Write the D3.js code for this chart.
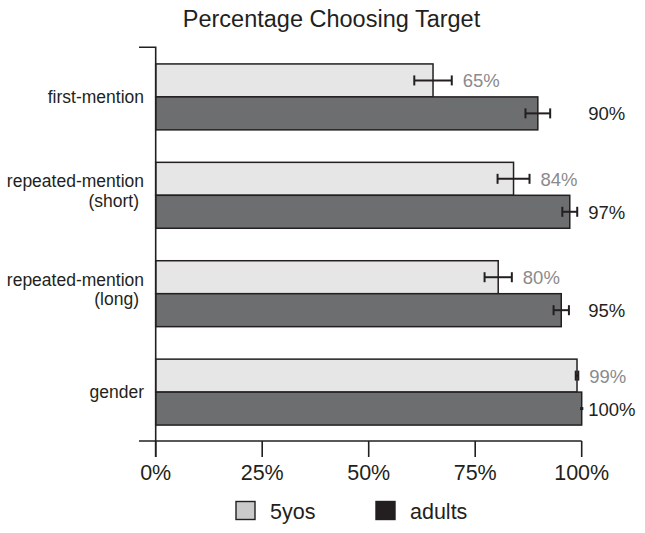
<!DOCTYPE html>
<html>
<head>
<meta charset="utf-8">
<script src="https://cdn.jsdelivr.net/npm/d3@7"></script>
<style>
  html, body { margin: 0; padding: 0; background: #fff; }
  svg { display: block; font-family: "Liberation Sans", Arial, Helvetica, sans-serif; }
</style>
</head>
<body>
<svg id="chart" width="645" height="533"></svg>
<script>
// ---- data ----
const categories = [["first-mention"], ["repeated-mention", "(short)"], ["repeated-mention", "(long)"], ["gender"]];
const seriesNames = ["5yos", "adults"];
const kidsValues = [65.1, 84.0, 80.4, 98.9];
const kidsErrors = [4.4, 3.75, 3.2, 0.3];
const adultValues = [89.7, 97.2, 95.2, 100];
const adultErrors = [2.9, 1.75, 1.8, 0.15];
const tickValues = [0, 25, 50, 75, 100];
const titleText = "Percentage Choosing Target";

// ---- setup ----
const ink = "#231f20";
const svg = d3.select("#chart");
const x = d3.scaleLinear().domain([0, 100]).range([155.7, 581.7]);
const y = d3.scaleBand().domain(d3.range(categories.length)).range([47.7, 441.3])
  .paddingInner(0.33).paddingOuter(0.165);
const ySub = d3.scaleBand().domain(seriesNames).range([0, y.bandwidth()]).padding(0);

const barFill = { "5yos": "#e6e6e7", "adults": "#6d6e70" };
const legendFill = { "5yos": "#cacacb", "adults": ink };
const labelColor = { "5yos": "#8a8a8c", "adults": ink };

const rows = [];
categories.forEach((c, i) => {
  rows.push({ cat: i, s: "5yos", v: kidsValues[i], e: kidsErrors[i] });
  rows.push({ cat: i, s: "adults", v: adultValues[i], e: adultErrors[i] });
});

// title
svg.append("text").attr("x", 331.5).attr("y", 27).attr("text-anchor", "middle")
  .attr("font-size", 23.5).attr("fill", ink).text(titleText);

// bars
svg.append("g").selectAll("rect").data(rows).join("rect")
  .attr("x", x(0))
  .attr("y", d => y(d.cat) + ySub(d.s))
  .attr("width", d => x(d.v) - x(0))
  .attr("height", ySub.bandwidth())
  .attr("fill", d => barFill[d.s])
  .attr("stroke", ink).attr("stroke-width", 1.5);

// error bars
const eg = svg.append("g").attr("stroke", ink).attr("stroke-width", 2);
rows.forEach(d => {
  const cy = y(d.cat) + ySub(d.s) + ySub.bandwidth() / 2;
  const x0 = x(d.v - d.e), x1 = x(d.v + d.e);
  const cap = d.e < 0.25 ? 1.5 : 5;
  eg.append("line").attr("x1", x0).attr("x2", x1).attr("y1", cy).attr("y2", cy);
  eg.append("line").attr("x1", x0).attr("x2", x0).attr("y1", cy - cap).attr("y2", cy + cap);
  eg.append("line").attr("x1", x1).attr("x2", x1).attr("y1", cy - cap).attr("y2", cy + cap);
});

// value labels
svg.append("g").selectAll("text").data(rows).join("text")
  .attr("x", d => d.s === "5yos" ? x(d.v + d.e) + 11 : x(100) + 6.5)
  .attr("y", d => y(d.cat) + ySub(d.s) + ySub.bandwidth() / 2 + 7)
  .attr("font-size", 18.5)
  .attr("fill", d => labelColor[d.s])
  .text(d => Math.round(d.v) + "%");

// category labels
const cg = svg.append("g").attr("font-size", 17.5).attr("fill", ink).attr("text-anchor", "end");
categories.forEach((lines, i) => {
  const cy = y(i) + y.bandwidth() / 2;
  if (lines.length === 1) {
    cg.append("text").attr("x", 144).attr("y", cy + 6).text(lines[0]);
  } else {
    cg.append("text").attr("x", 144).attr("y", cy - 8).text(lines[0]);
    cg.append("text").attr("x", 139).attr("y", cy + 11.5).text(lines[1]);
  }
});

// axes
const ag = svg.append("g").attr("stroke", ink).attr("stroke-width", 1.6).attr("fill", "none");
ag.append("path").attr("d", `M139,47.3H${x(0)}V457`);
ag.append("path").attr("d", `M139,441H${x(100)}`);
ag.selectAll("line.tick").data(tickValues).join("line")
  .attr("x1", d => x(d)).attr("x2", d => x(d)).attr("y1", 441).attr("y2", 457);
svg.append("g").selectAll("text").data(tickValues).join("text")
  .attr("x", d => x(d)).attr("y", 480).attr("text-anchor", "middle")
  .attr("font-size", 21.5).attr("fill", ink).text(d => d + "%");

// legend
const legendX = [236, 376];
const lg = svg.append("g");
seriesNames.forEach((s, i) => {
  lg.append("rect").attr("x", legendX[i]).attr("y", 501.5).attr("width", 19).attr("height", 18)
    .attr("fill", legendFill[s]).attr("stroke", ink).attr("stroke-width", 1.4);
  lg.append("text").attr("x", legendX[i] + 34).attr("y", 518.5).attr("font-size", 21.5)
    .attr("fill", ink).text(s);
});
</script>
</body>
</html>
